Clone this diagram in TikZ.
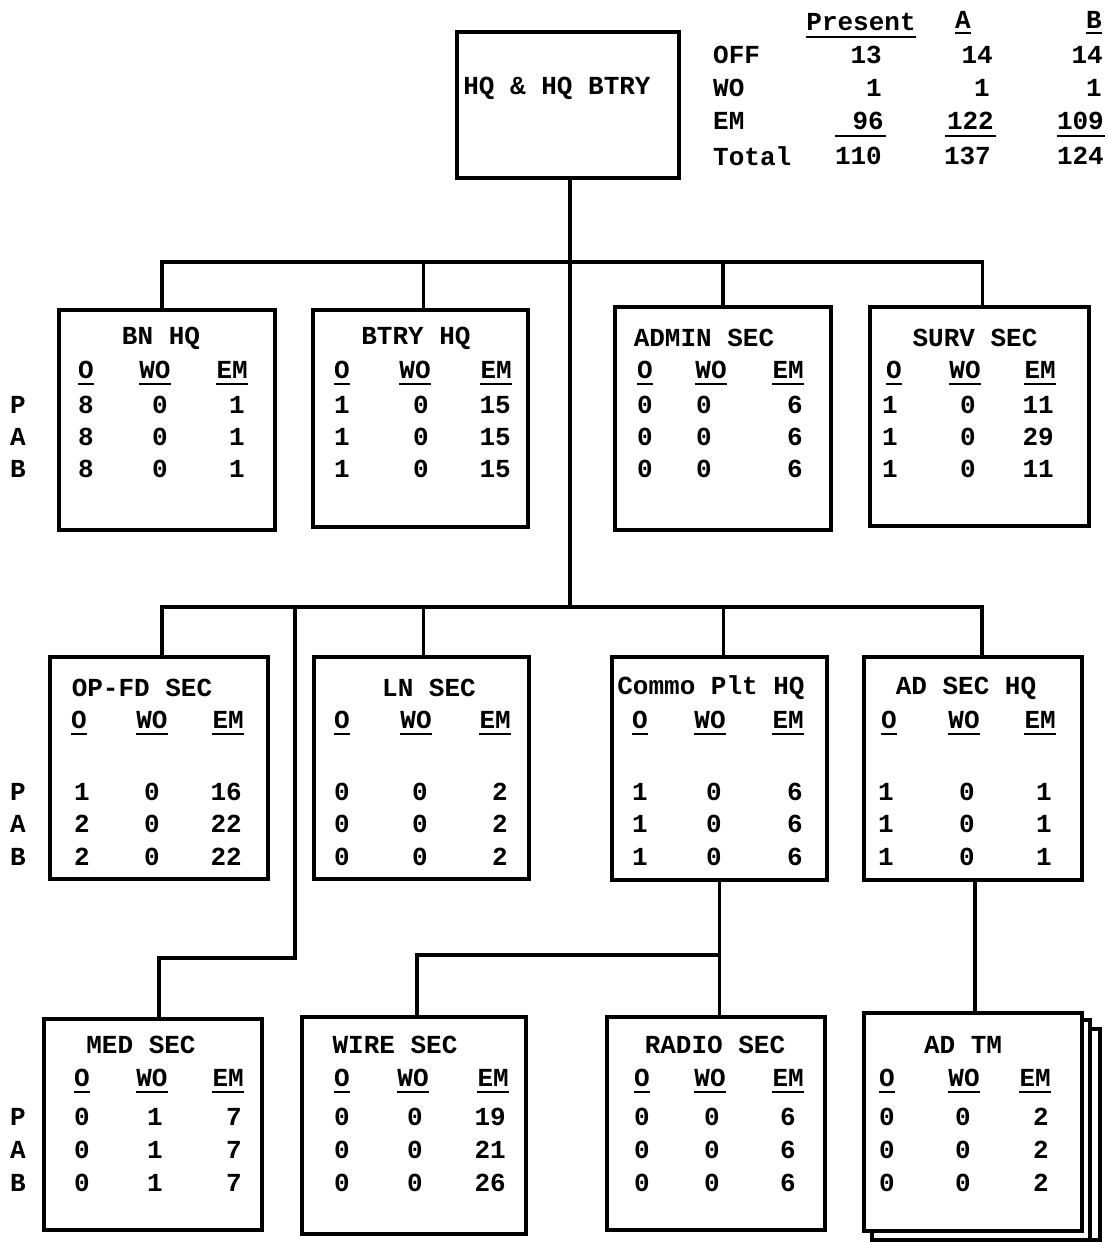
\documentclass[tikz,border=0pt]{standalone}
\usepackage{fontspec}
\setmainfont{Liberation Mono}
\tikzset{
  tx/.style={inner sep=0pt, font=\fontsize{26}{30}\selectfont\bfseries},
  unit/.style={draw, line width=3.5pt, fill=white, inner sep=0pt, anchor=north west},
  conn/.style={line width=3.5pt},
  ul/.style={line width=2.5pt},
}
\newcommand\unitbox[5]{%
  \pgfmathsetmacro\bw{#4-#2}\pgfmathsetmacro\bh{#5-#3}%
  \node[unit, minimum width=\bw pt, minimum height=\bh pt] (#1) at (#2,#3) {};}
\newcommand\hdr[5]{%
  \node[tx, anchor=west] (#1-ho) at (#3,#2) {O};
  \node[tx] (#1-hw) at (#4,#2) {WO};
  \node[tx, anchor=east] (#1-he) at (#5,#2) {EM};
  \foreach \h in {ho,hw,he}{\draw[ul] ([yshift=-5pt]#1-\h.south west) -- ([yshift=-5pt]#1-\h.south east);}}
\newcommand\drow[8]{%
  \node[tx, anchor=west] (#1o) at (#3,#2) {#6};
  \node[tx] (#1w) at (#4,#2) {#7};
  \node[tx, anchor=east] (#1e) at (#5,#2) {#8};}
\begin{document}
\begin{tikzpicture}[x=1pt,y=-1pt]
\useasboundingbox (0,0) rectangle (1107,1242);
% ---------- top box
\unitbox{hq}{455}{30}{677}{176}
\node[tx] (hqt) at (557,88) {HQ \& HQ BTRY};
% ---------- top right table
\node[tx] (tp) at (861,22) {Present};
\draw[ul] ([yshift=-6pt]tp.south west) -- ([yshift=-6pt]tp.south east);
\node[tx] (ta) at (963,20) {A};
\draw[ul] ([yshift=-4pt]ta.south west) -- ([yshift=-4pt]ta.south east);
\node[tx] (tb) at (1094,20) {B};
\draw[ul] ([yshift=-4pt]tb.south west) -- ([yshift=-4pt]tb.south east);
\node[tx, anchor=west] (toff) at (713,55) {OFF};
\node[tx, anchor=west] (two) at (713,88) {WO};
\node[tx, anchor=west] (tem) at (713,121) {EM};
\node[tx, anchor=west] (ttot) at (713,156) {Total};
\node[tx, anchor=east] (p1) at (882,55) {13};
\node[tx, anchor=east] (p2) at (882,88) {1};
\node[tx, anchor=east] (p3) at (884,121) {96};
\node[tx, anchor=east] (p4) at (882,156) {110};
\node[tx, anchor=east] (a1) at (993,55) {14};
\node[tx, anchor=east] (a2) at (990,88) {1};
\node[tx, anchor=east] (a3) at (994,121) {122};
\node[tx, anchor=east] (a4) at (991,156) {137};
\node[tx, anchor=east] (b1) at (1103,55) {14};
\node[tx, anchor=east] (b2) at (1102,88) {1};
\node[tx, anchor=east] (b3) at (1104,121) {109};
\node[tx, anchor=east] (b4) at (1104,156) {124};
\draw[ul] (835,136) -- (886,136);
\draw[ul] (945,136) -- (996,136);
\draw[ul] (1057,136) -- (1105,136);
% ---------- row 1
\unitbox{bn}{57}{308}{273}{528}
\unitbox{bt}{311}{308}{526}{525}
\unitbox{ad}{613}{305}{829}{528}
\unitbox{sv}{868}{305}{1087}{524}
\node[tx] (bnt) at (161,338) {BN HQ};
\node[tx] (btt) at (416,338) {BTRY HQ};
\node[tx] (adt) at (704,338) {ADMIN SEC};
\node[tx] (svt) at (975,338) {SURV SEC};
\hdr{bn}{370}{78}{155}{248}
\hdr{bt}{370}{334}{415}{512}
\hdr{ad}{370}{637}{711}{804}
\hdr{sv}{370}{886}{965}{1056}
\drow{bn-1}{405}{78}{160}{245}{8}{0}{1}
\drow{bn-2}{437}{78}{160}{245}{8}{0}{1}
\drow{bn-3}{469}{78}{160}{245}{8}{0}{1}
\drow{bt-1}{405}{334}{421}{511}{1}{0}{15}
\drow{bt-2}{437}{334}{421}{511}{1}{0}{15}
\drow{bt-3}{469}{334}{421}{511}{1}{0}{15}
\drow{ad-1}{405}{637}{704}{803}{0}{0}{6}
\drow{ad-2}{437}{637}{704}{803}{0}{0}{6}
\drow{ad-3}{469}{637}{704}{803}{0}{0}{6}
\drow{sv-1}{405}{882}{968}{1054}{1}{0}{11}
\drow{sv-2}{437}{882}{968}{1054}{1}{0}{29}
\drow{sv-3}{469}{882}{968}{1054}{1}{0}{11}
\node[tx] (r1p) at (18,405) {P};
\node[tx] (r1a) at (18,437) {A};
\node[tx] (r1b) at (18,469) {B};
% ---------- row 2
\unitbox{op}{48}{655}{266}{877}
\unitbox{ln}{312}{655}{527}{877}
\unitbox{cm}{610}{655}{825}{878}
\unitbox{as}{862}{655}{1080}{878}
\node[tx] (opt) at (142,688) {OP-FD SEC};
\node[tx] (lnt) at (429,688) {LN SEC};
\node[tx] (cmt) at (711,688) {Commo Plt HQ};
\node[tx] (ast) at (966,688) {AD SEC HQ};
\hdr{op}{720}{71}{152}{244}
\hdr{ln}{720}{334}{416}{511}
\hdr{cm}{720}{632}{710}{804}
\hdr{as}{720}{881}{964}{1056}
\drow{op-1}{792}{74}{152}{242}{1}{0}{16}
\drow{op-2}{824}{74}{152}{242}{2}{0}{22}
\drow{op-3}{857}{74}{152}{242}{2}{0}{22}
\drow{ln-1}{792}{334}{420}{508}{0}{0}{2}
\drow{ln-2}{824}{334}{420}{508}{0}{0}{2}
\drow{ln-3}{857}{334}{420}{508}{0}{0}{2}
\drow{cm-1}{792}{632}{714}{803}{1}{0}{6}
\drow{cm-2}{824}{632}{714}{803}{1}{0}{6}
\drow{cm-3}{857}{632}{714}{803}{1}{0}{6}
\drow{as-1}{792}{878}{967}{1052}{1}{0}{1}
\drow{as-2}{824}{878}{967}{1052}{1}{0}{1}
\drow{as-3}{857}{878}{967}{1052}{1}{0}{1}
\node[tx] (r2p) at (18,792) {P};
\node[tx] (r2a) at (18,824) {A};
\node[tx] (r2b) at (18,857) {B};
% ---------- row 3
\unitbox{md}{42}{1017}{260}{1228}
\unitbox{wr}{300}{1015}{524}{1232}
\unitbox{rd}{605}{1015}{823}{1228}
\unitbox{tm3}{880}{1027}{1098}{1238}
\unitbox{tm2}{870}{1018}{1088}{1238}
\unitbox{tm}{862}{1011}{1080}{1229}
\node[tx] (mdt) at (141,1045) {MED SEC};
\node[tx] (wrt) at (395,1045) {WIRE SEC};
\node[tx] (rdt) at (715,1045) {RADIO SEC};
\node[tx] (tmt) at (963,1045) {AD TM};
\hdr{md}{1078}{74}{152}{244}
\hdr{wr}{1078}{334}{413}{509}
\hdr{rd}{1078}{634}{710}{804}
\hdr{tm}{1078}{879}{964}{1051}
\drow{md-1}{1117}{74}{155}{242}{0}{1}{7}
\drow{md-2}{1150}{74}{155}{242}{0}{1}{7}
\drow{md-3}{1183}{74}{155}{242}{0}{1}{7}
\drow{wr-1}{1117}{334}{415}{506}{0}{0}{19}
\drow{wr-2}{1150}{334}{415}{506}{0}{0}{21}
\drow{wr-3}{1183}{334}{415}{506}{0}{0}{26}
\drow{rd-1}{1117}{634}{712}{796}{0}{0}{6}
\drow{rd-2}{1150}{634}{712}{796}{0}{0}{6}
\drow{rd-3}{1183}{634}{712}{796}{0}{0}{6}
\drow{tm-1}{1117}{879}{963}{1049}{0}{0}{2}
\drow{tm-2}{1150}{879}{963}{1049}{0}{0}{2}
\drow{tm-3}{1183}{879}{963}{1049}{0}{0}{2}
\node[tx] (r3p) at (18,1117) {P};
\node[tx] (r3a) at (18,1150) {A};
\node[tx] (r3b) at (18,1183) {B};
% ---------- connectors
\coordinate (j1) at (570,262);
\coordinate (j2) at (570,607);
\coordinate (jm) at (295,607);
\coordinate (jm2) at (295,958);
\coordinate (jc) at (718,955);
\draw[conn] (hq.south -| j2) -- (j2);
\draw[conn] ([xshift=-5pt]bn.north) -- ([xshift=-5pt]bn.north |- j1) -- ([xshift=3pt]sv.north |- j1) -- ([xshift=3pt]sv.north);
\draw[conn] ([xshift=3pt]bt.north) -- ([xshift=3pt]bt.north |- j1);
\draw[conn] (ad.north) -- (ad.north |- j1);
\draw[conn] ([xshift=3pt]op.north) -- ([xshift=3pt]op.north |- j2) -- ([xshift=9pt]as.north |- j2) -- ([xshift=9pt]as.north);
\draw[conn] ([xshift=2pt]ln.north) -- ([xshift=2pt]ln.north |- j2);
\draw[conn] ([xshift=4pt]cm.north) -- ([xshift=4pt]cm.north |- j2);
\draw[conn] (jm) -- (jm2) -- ([xshift=6pt]md.north |- jm2) -- ([xshift=6pt]md.north);
\draw[conn] (cm.south) -- (rd.north -| cm.south);
\draw[conn] (jc) -- ([xshift=3pt]wr.north |- jc) -- ([xshift=3pt]wr.north);
\draw[conn] ([xshift=2pt]as.south) -- ([xshift=2pt]tm.north);
\end{tikzpicture}
\end{document}
